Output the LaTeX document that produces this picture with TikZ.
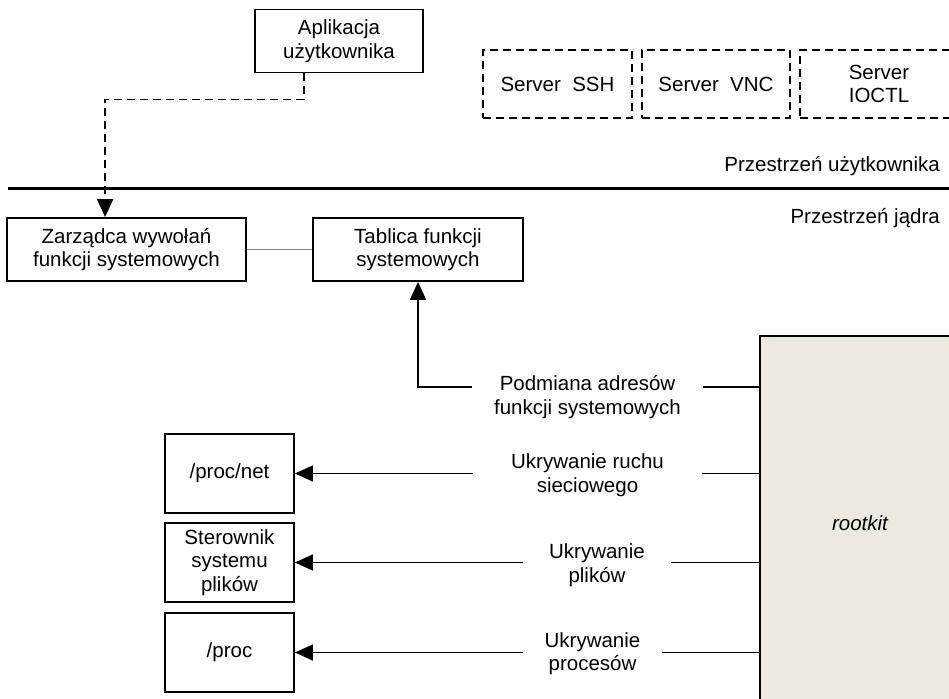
\documentclass[tikz,border=0pt]{standalone}
\usepackage{fontspec}
\setmainfont{Liberation Sans}
\usetikzlibrary{arrows.meta}
\definecolor{rkfill}{RGB}{236,233,224}
\begin{document}
\begin{tikzpicture}[x=1pt,y=-1pt,
  every node/.style={font=\fontsize{20.5}{23.5}\selectfont, align=center, inner sep=0pt},
  box/.style={draw, line width=1.8pt, fill=white},
  dbox/.style={draw, line width=2pt, dash pattern=on 8pt off 5pt},
  conn/.style={line width=1.5pt},
  tip/.style={-{Triangle[length=18pt,width=16pt]}},
  arr/.style={conn, tip},
  lbl/.style={fill=white}]
\useasboundingbox (0,0) rectangle (949,698);
\fill[white] (0,0) rectangle (949,698);

% user space
\node[box, minimum width=168pt, minimum height=63pt] (app) at (339,41) {Aplikacja\\użytkownika};
\node[dbox, minimum width=149pt, minimum height=68pt] (ssh) at (557.5,84) {Server\ \ SSH};
\node[dbox, minimum width=148pt, minimum height=68pt] (vnc) at (716,84) {Server\ \ VNC};
\node[dbox, minimum width=158pt, minimum height=68pt] (ioctl) at (879,84) {Server\\IOCTL};

% separator
\coordinate (sepL) at (8,188);
\coordinate (sepR) at (949,188);
\draw[line width=3pt] (sepL) -- (sepR);
\node[anchor=east] (lu) at (940,166) {Przestrzeń użytkownika};
\node[anchor=east] (lk) at (940,218) {Przestrzeń jądra};

% kernel space
\node[box, minimum width=239pt, minimum height=63pt] (zar) at (126.5,249.5) {Zarządca wywołań\\funkcji systemowych};
\node[box, minimum width=210pt, minimum height=63pt] (tab) at (418,249.5) {Tablica funkcji\\systemowych};
\node[box, minimum width=129pt, minimum height=79pt] (procnet) at (229.5,473.5) {/proc/net};
\node[box, minimum width=129pt, minimum height=79pt] (ster) at (229.5,562.5) {Sterownik\\systemu\\plików};
\node[box, minimum width=129pt, minimum height=79pt] (proc) at (229.5,652.5) {/proc};
\node[draw, line width=2.6pt, fill=rkfill, minimum width=200pt, minimum height=374pt] (rk) at (860,523) {\itshape rootkit};

% connectors
\draw[conn, dash pattern=on 8pt off 5pt, tip]
  ([xshift=50pt]app.south west) -- ++(0,26) -| ([xshift=99pt]zar.north west);
\draw[gray, line width=1.2pt] (zar) -- (tab);

\coordinate (podY) at (0,387);
\draw[arr] (rk.west |- podY) -| (tab.south);
\draw[arr] (rk.west |- procnet) -- (procnet.east);
\draw[arr] (rk.west |- ster) -- (ster.east);
\draw[arr] (rk.west |- proc) -- (proc.east);

% labels
\node[lbl, minimum width=231pt] (pod) at (587.5,397) {Podmiana adresów\\funkcji systemowych};
\node[lbl, minimum width=229pt] (ruch) at (587.5,475) {Ukrywanie ruchu\\sieciowego};
\node[lbl, minimum width=148pt] (plik) at (597,565) {Ukrywanie\\plików};
\node[lbl, minimum width=139pt] (procs) at (592.5,653.5) {Ukrywanie\\procesów};
\end{tikzpicture}
\end{document}
